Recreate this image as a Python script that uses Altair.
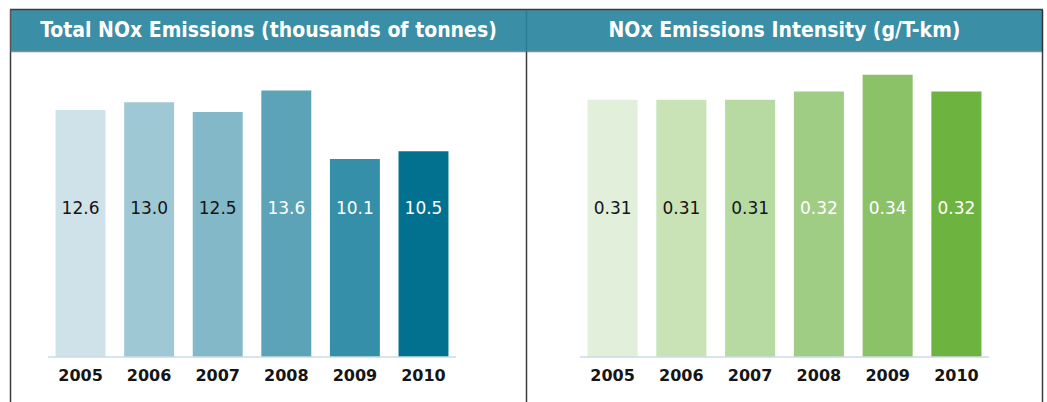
import altair as alt
import pandas as pd

# Reporting years shared by both panels
years = ["2005", "2006", "2007", "2008", "2009", "2010"]

# Total NOx emissions, thousands of tonnes
nox_total = [12.6, 13.0, 12.5, 13.6, 10.1, 10.5]
total_colors = ["#cfe2e9", "#9fc8d5", "#82b8c8", "#5ca3b8", "#358fa8", "#02718f"]
total_ink = ["#151515", "#151515", "#151515", "#ffffff", "#ffffff", "#ffffff"]

# NOx emissions intensity, g per tonne-km
nox_intensity = [0.31, 0.31, 0.31, 0.32, 0.34, 0.32]
intensity_colors = ["#e2efdb", "#c9e3b7", "#b7daa2", "#a0cd84", "#8cc267", "#6db33f"]
intensity_ink = ["#151515", "#151515", "#151515", "#ffffff", "#ffffff", "#ffffff"]

titles = ["Total NOx Emissions (thousands of tonnes)", "NOx Emissions Intensity (g/T-km)"]

W, H = 1047, 402
BASE_Y = 357
LABEL_Y = 209
YEAR_Y = 376
TEXT_FONT = "DejaVu Sans"
TITLE_FONT = "DejaVu Sans Condensed"
BAR_BLUE = "#3a8ea6"
FRAME = "#3c3c3c"

one_row = pd.DataFrame({"k": [0]})


def panel(values, colors, ink, fmt, x_range, y_domain, y_top):
    df = pd.DataFrame({"year": years, "value": values, "ink": ink})
    x = alt.X(
        "year:N",
        sort=years,
        axis=None,
        scale=alt.Scale(domain=years, range=x_range, paddingInner=0.272, paddingOuter=0.11),
    )
    y_scale = alt.Scale(domain=y_domain, range=[BASE_Y, y_top], nice=False, zero=True)
    base = alt.Chart(df)
    bars = base.mark_bar(cornerRadius=0).encode(
        x=x,
        y=alt.Y("value:Q", axis=None, scale=y_scale),
        color=alt.Color("year:N", scale=alt.Scale(domain=years, range=colors), legend=None),
    )
    baseline = alt.Chart(one_row).mark_rule(color="#c9dde3", strokeWidth=1.5).encode(
        x=alt.value(x_range[0]),
        x2=alt.value(x_range[1]),
        y=alt.datum(0, scale=y_scale),
    )
    labels = base.mark_text(font=TEXT_FONT, fontSize=17, baseline="middle").encode(
        x=x,
        y=alt.value(LABEL_Y),
        text=alt.Text("value:Q", format=fmt),
        color=alt.Color("ink:N", scale=None),
    )
    year_text = base.mark_text(
        font=TEXT_FONT, fontSize=16, fontWeight="bold", color="#151515", baseline="middle"
    ).encode(x=x, y=alt.value(YEAR_Y), text="year:N")
    return alt.layer(bars, baseline, labels, year_text)


left = panel(nox_total, total_colors, total_ink, ".1f", [48, 456], [0, 14], BASE_Y - 14 * 19.6)
right = panel(nox_intensity, intensity_colors, intensity_ink, ".2f", [580, 989], [0, 0.35], BASE_Y - 0.35 * 830)

# Title bands across the top of each panel
bands = alt.Chart(pd.DataFrame({"x0": [11, 527], "x1": [526, 1042]})).mark_rect(color=BAR_BLUE).encode(
    x=alt.X("x0:Q", scale=None), x2="x1:Q", y=alt.value(10), y2=alt.value(51)
)
title_df = pd.DataFrame({"cx": [268.5, 784.5], "t": titles})
title_text = alt.Chart(title_df).mark_text(
    font=TITLE_FONT, fontSize=21, fontWeight="bold", color="white", baseline="middle"
).encode(x=alt.X("cx:Q", scale=None), y=alt.value(30.5), text="t:N")

# Panel frame lines
under_title = alt.Chart(one_row).mark_rule(color="#8a8a8a", strokeWidth=1.5).encode(
    x=alt.value(11), x2=alt.value(1042), y=alt.value(51.5)
)
top_line = alt.Chart(one_row).mark_rule(color=FRAME, strokeWidth=1.5).encode(
    x=alt.value(10), x2=alt.value(1043), y=alt.value(9.5)
)
sides = alt.Chart(pd.DataFrame({"xv": [10.5, 526.5, 1042.5]})).mark_rule(color=FRAME, strokeWidth=1.5).encode(
    x=alt.X("xv:Q", scale=None), y=alt.value(52), y2=alt.value(H)
)
band_sides = alt.Chart(pd.DataFrame({"xv": [10.5, 526.5, 1042.5], "c": ["#555555", "#2a7d95", "#333333"]})).mark_rule(
    strokeWidth=1.5
).encode(x=alt.X("xv:Q", scale=None), y=alt.value(10), y2=alt.value(52), color=alt.Color("c:N", scale=None))

chart = (
    alt.layer(left, right, bands, title_text, under_title, top_line, sides, band_sides)
    .resolve_scale(x="independent", y="independent", color="independent")
    .properties(width=W, height=H, autosize=alt.AutoSizeParams(type="none"), padding=0)
    .configure_view(stroke=None)
)

chart.save("out.html", embed_options={"renderer": "svg", "actions": False})
